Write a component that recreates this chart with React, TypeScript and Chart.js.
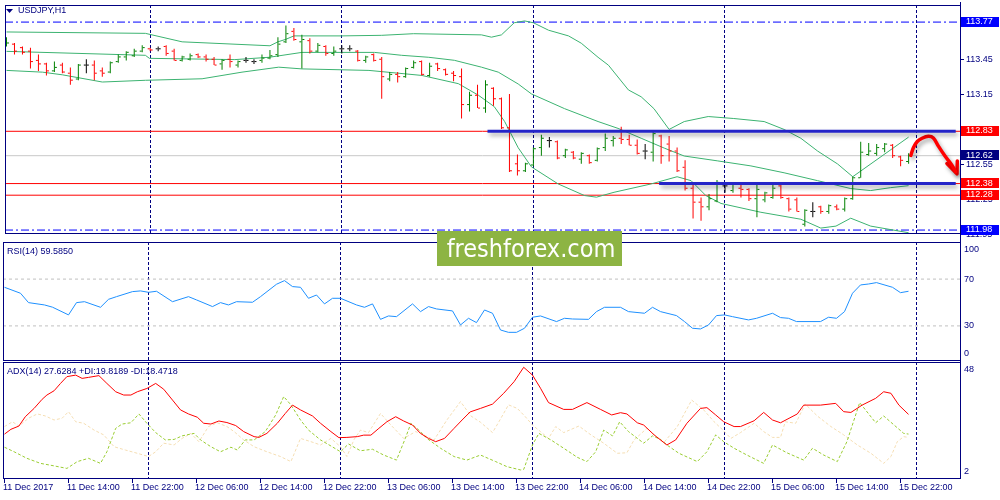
import React, { useEffect, useRef } from "react";
import { Chart, registerables } from "chart.js";

Chart.register(...registerables);

// USDJPY H1, bar 0 = 11 Dec 2017 06:00, one bar per hour
const opens = [
  113.57, 113.58, 113.55, 113.52, 113.44, 113.41, 113.35, 113.4, 113.33, 113.28,
  113.4, 113.4, 113.35, 113.34, 113.43, 113.47, 113.48, 113.52, 113.54, 113.54,
  113.56, 113.52, 113.44, 113.45, 113.49, 113.47, 113.45, 113.41, 113.45, 113.4,
  113.44, 113.43, 113.44, 113.46, 113.49, 113.6, 113.69, 113.6, 113.61, 113.52,
  113.56, 113.5, 113.54, 113.54, 113.52, 113.44, 113.49, 113.45, 113.28, 113.32,
  113.3, 113.38, 113.43, 113.31, 113.41, 113.36, 113.33, 113.3, 113.06, 113.14,
  113.03, 113.2, 113.11, 112.86, 112.55, 112.49, 112.54, 112.69, 112.75, 112.74,
  112.62, 112.65, 112.59, 112.62, 112.58, 112.69, 112.75, 112.77, 112.76, 112.71,
  112.66, 112.65, 112.79, 112.72, 112.66, 112.52, 112.34, 112.22, 112.18, 112.23,
  112.36, 112.32, 112.34, 112.33, 112.25, 112.24, 112.26, 112.36, 112.25, 112.24,
  112.03, 112.14, 112.18, 112.14, 112.18, 112.16, 112.25, 112.43, 112.63, 112.64,
  112.68, 112.71, 112.61, 112.57,
];
const highs = [
  113.64, 113.59, 113.56, 113.55, 113.49, 113.42, 113.43, 113.42, 113.38, 113.41,
  113.45, 113.44, 113.38, 113.43, 113.49, 113.52, 113.54, 113.57, 113.55, 113.56,
  113.57, 113.54, 113.48, 113.5, 113.5, 113.49, 113.47, 113.45, 113.49, 113.44,
  113.47, 113.45, 113.49, 113.53, 113.64, 113.74, 113.72, 113.66, 113.63, 113.59,
  113.57, 113.56, 113.57, 113.57, 113.53, 113.48, 113.5, 113.47, 113.34, 113.34,
  113.38, 113.44, 113.44, 113.42, 113.42, 113.37, 113.35, 113.37, 113.17, 113.23,
  113.27, 113.21, 113.12, 113.15, 112.63, 112.56, 112.69, 112.8, 112.78, 112.75,
  112.68, 112.66, 112.65, 112.63, 112.69, 112.81, 112.79, 112.87, 112.8, 112.76,
  112.72, 112.83, 112.8, 112.79, 112.69, 112.58, 112.38, 112.26, 112.29, 112.41,
  112.38, 112.38, 112.38, 112.34, 112.38, 112.31, 112.38, 112.38, 112.26, 112.26,
  112.16, 112.22, 112.19, 112.2, 112.2, 112.26, 112.44, 112.74, 112.73, 112.72,
  112.73, 112.72, 112.62, 112.64,
];
const lows = [
  113.56, 113.49, 113.49, 113.37, 113.35, 113.31, 113.34, 113.33, 113.23, 113.27,
  113.33, 113.27, 113.3, 113.33, 113.42, 113.44, 113.47, 113.51, 113.52, 113.52,
  113.48, 113.44, 113.43, 113.44, 113.46, 113.43, 113.4, 113.36, 113.38, 113.38,
  113.42, 113.41, 113.42, 113.45, 113.47, 113.59, 113.61, 113.37, 113.5, 113.51,
  113.48, 113.48, 113.5, 113.52, 113.43, 113.42, 113.43, 113.11, 113.26, 113.25,
  113.29, 113.37, 113.31, 113.3, 113.35, 113.31, 113.26, 112.94, 113.0, 113.03,
  112.99, 113.05, 112.85, 112.48, 112.45, 112.48, 112.53, 112.62, 112.69, 112.59,
  112.6, 112.59, 112.55, 112.55, 112.57, 112.66, 112.7, 112.72, 112.71, 112.63,
  112.59, 112.57, 112.55, 112.57, 112.48, 112.32, 112.08, 112.06, 112.15, 112.22,
  112.3, 112.3, 112.26, 112.23, 112.09, 112.22, 112.25, 112.25, 112.14, 112.14,
  112.01, 112.09, 112.12, 112.12, 112.15, 112.14, 112.24, 112.43, 112.62, 112.62,
  112.65, 112.6, 112.53, 112.55,
];
const closes = [
  113.59, 113.52, 113.51, 113.43, 113.41, 113.35, 113.38, 113.34, 113.27, 113.4,
  113.4, 113.33, 113.33, 113.42, 113.47, 113.51, 113.52, 113.55, 113.53, 113.54,
  113.5, 113.44, 113.47, 113.48, 113.47, 113.45, 113.4, 113.44, 113.43, 113.43,
  113.44, 113.43, 113.46, 113.48, 113.58, 113.67, 113.62, 113.62, 113.52, 113.57,
  113.5, 113.52, 113.54, 113.54, 113.44, 113.47, 113.44, 113.3, 113.32, 113.3,
  113.37, 113.42, 113.32, 113.39, 113.37, 113.32, 113.31, 113.06, 113.14, 113.03,
  113.23, 113.11, 112.86, 112.49, 112.49, 112.55, 112.68, 112.77, 112.75, 112.6,
  112.67, 112.6, 112.64, 112.56, 112.68, 112.77, 112.77, 112.76, 112.71, 112.64,
  112.66, 112.81, 112.62, 112.66, 112.49, 112.34, 112.22, 112.18, 112.25, 112.39,
  112.36, 112.38, 112.33, 112.25, 112.33, 112.3, 112.34, 112.26, 112.16, 112.14,
  112.15, 112.14, 112.14, 112.19, 112.16, 112.25, 112.43, 112.65, 112.66, 112.69,
  112.72, 112.62, 112.58, 112.62,
];

// Bollinger bands, [bar, price]
const upperBand: [number, number][] = [
  [0, 113.685], [17.4, 113.673], [22, 113.6], [33, 113.566], [34, 113.6], [35, 113.622],
  [36, 113.651], [42, 113.651], [47, 113.656], [51, 113.67], [59.5, 113.66], [60.75, 113.64],
  [62, 113.66], [63.6, 113.764], [64.9, 113.78], [66, 113.764], [67.9, 113.7], [70.4, 113.651],
  [72, 113.588], [74.1, 113.467], [75.4, 113.399], [77.9, 113.186], [79.5, 113.127],
  [81.1, 113.025], [83, 112.846], [84.9, 112.914], [87.9, 112.957], [91.1, 112.94],
  [94.9, 112.914], [97.4, 112.846], [99.5, 112.77], [101.6, 112.66], [104.1, 112.549],
  [106, 112.439], [113, 112.78],
];
const middleBand: [number, number][] = [
  [0, 113.518], [17.4, 113.484], [17.9, 113.458], [28.6, 113.447], [32.9, 113.467], [37, 113.509],
  [46.1, 113.509], [49.5, 113.484], [52.9, 113.467], [56.1, 113.441], [59.5, 113.382],
  [61.6, 113.339], [64.1, 113.237], [65.75, 113.152], [69.9, 113.025], [74.1, 112.914],
  [76.6, 112.855], [79.5, 112.77], [82.4, 112.685], [84.9, 112.617], [89.1, 112.575],
  [93.25, 112.532], [97.4, 112.473], [101.6, 112.405], [105.75, 112.337], [108.25, 112.32],
  [110.75, 112.345], [113, 112.362],
];
const lowerBand: [number, number][] = [
  [0, 113.354], [4.5, 113.339], [7, 113.316], [12, 113.254], [17.4, 113.269], [24.5, 113.282],
  [29.5, 113.339], [34.1, 113.382], [37, 113.367], [45.4, 113.354], [52, 113.311], [56.6, 113.24],
  [59.1, 113.141], [61.1, 113.042], [62.4, 112.914], [64.1, 112.688], [65.75, 112.524],
  [69.1, 112.377], [72.4, 112.277], [73.9, 112.263], [76.1, 112.305], [80.75, 112.377],
  [84, 112.439], [85.75, 112.405], [87.6, 112.277], [89.5, 112.209], [94.5, 112.133],
  [99.5, 112.073], [102, 111.997], [103.9, 112.014], [105.75, 112.082], [108.25, 112.014],
  [113, 111.957],
];

const redLevels = [112.83, 112.38, 112.28];
const blueLevels = [113.77, 111.98];
const bidPrice = 112.62;
const priceTicks = [113.75, 113.45, 113.15, 112.85, 112.55, 112.25, 111.95];

// drawn objects
const resistance: [number, number][] = [[60.25, 112.83], [118.9, 112.83]];
const support: [number, number][] = [[81.75, 112.38], [118.9, 112.38]];
const arrowPath: [number, number][] = [
  [113.28, 112.623], [113.6, 112.688], [114.06, 112.74], [114.69, 112.77], [115.48, 112.787],
  [116.1, 112.773], [116.73, 112.702], [117.56, 112.617], [118.4, 112.541], [118.9, 112.481],
];
const arrowHead: [number, number][] = [[117.8, 112.552], [119.06, 112.464], [119.1, 112.575]];

// RSI(14)
const rsiPoints: [number, number][] = [
  [0, 63.0], [2, 57.9], [3, 49.9], [5, 47.9], [6, 46.0], [8, 39.4], [9, 49.9], [10, 50.7],
  [12, 45.9], [13, 52.7], [14, 55.0], [16, 59.3], [17, 59.9], [18, 58.7], [19, 59.6], [21, 50.7],
  [23, 55.0], [24, 52.2], [26, 46.5], [27, 49.9], [28, 47.9], [29, 50.7], [31, 50.2], [32, 55.0],
  [34, 65.6], [35, 68.7], [36, 63.6], [37, 63.0], [38, 53.6], [39, 56.4], [40, 48.8], [41, 53.6],
  [42, 53.6], [44, 47.9], [45, 45.9], [46, 48.8], [47, 35.6], [48, 38.5], [49, 37.9], [51, 48.8],
  [52, 42.2], [53, 46.5], [54, 44.5], [56, 42.8], [57, 30.8], [58, 36.5], [59, 32.8], [60, 43.6],
  [61, 40.8], [62, 26.5], [63, 24.5], [64, 24.5], [65, 28.0], [66, 37.4], [67, 38.5], [69, 33.7],
  [70, 36.5], [71, 35.9], [73, 35.6], [74, 42.2], [75, 45.9], [77, 45.9], [78, 42.2], [80, 40.8],
  [81, 45.9], [82, 42.2], [84, 38.8], [85, 33.7], [86, 28.0], [87, 27.4], [88, 30.8], [89, 38.8],
  [90, 39.4], [91, 37.9], [93, 35.1], [94, 36.5], [96, 40.8], [97, 37.1], [98, 36.5], [99, 33.7],
  [102, 33.7], [103, 37.4], [104, 36.5], [105, 42.2], [106, 57.9], [107, 65.0], [108, 65.8],
  [109, 67.0], [111, 63.0], [112, 58.4], [113, 59.585],
];
const rsiLevels = [70, 30];
const rsiTicks = [100, 70, 30, 0];

// ADX(14), +DI, -DI
const adxPoints: [number, number][] = [
  [0, 19.8], [0.8, 21.7], [1.8, 23.0], [2.6, 26.7], [3.7, 30.0], [4.7, 33.6], [5.3, 35.3],
  [6.2, 37.0], [7.0, 39.9], [7.8, 42.6], [8.9, 43.2], [9.7, 41.9], [10.5, 42.3], [11.8, 43.0],
  [12.8, 39.9], [13.9, 36.6], [14.9, 35.3], [15.8, 35.3], [16.6, 36.6], [17.8, 37.9], [18.9, 39.9],
  [19.9, 37.6], [21.0, 33.3], [22.0, 29.4], [23.0, 27.8], [24.1, 26.5], [24.9, 24.1], [25.8, 23.8],
  [26.8, 25.0], [27.8, 24.4], [28.9, 23.2], [29.9, 20.8], [31.2, 18.8], [31.8, 18.5], [32.8, 20.1],
  [34.1, 24.1], [35.1, 28.0], [36.0, 31.3], [37.0, 29.4], [38.5, 27.0], [39.5, 24.1], [40.8, 20.8],
  [41.8, 18.4], [42.8, 18.5], [44.1, 18.8], [44.9, 19.4], [45.8, 19.4], [46.8, 22.1], [47.8, 24.7],
  [48.9, 26.7], [49.9, 25.0], [51.0, 23.4], [52.0, 20.1], [53.0, 18.1], [53.9, 16.8], [55.0, 18.1],
  [56.2, 22.1], [57.2, 25.4], [58.2, 28.6], [59.5, 30.0], [61.0, 31.7], [62.4, 36.0], [63.7, 40.6],
  [64.9, 46.3], [66.0, 43.2], [67.0, 38.0], [68.0, 32.3], [69.9, 29.6], [71.0, 29.6], [72.8, 32.3],
  [74.5, 29.6], [75.9, 27.4], [77.0, 28.3], [77.8, 27.8], [79.1, 24.3], [79.9, 23.4], [81.2, 19.5],
  [82.8, 15.5], [83.9, 17.5], [85.3, 24.1], [87.0, 30.0], [87.8, 30.3], [88.9, 27.4], [89.9, 24.7],
  [91.2, 22.8], [92.0, 22.8], [93.7, 25.1], [94.9, 28.4], [96.0, 25.4], [97.0, 24.3], [99.1, 27.8],
  [99.9, 31.3], [102.0, 31.3], [103.9, 32.0], [104.9, 28.7], [105.8, 28.4], [107.2, 31.3],
  [108.9, 34.0], [109.9, 36.6], [110.8, 36.0], [111.8, 31.3], [113, 27.6284],
];
const plusDiPoints: [number, number][] = [
  [0, 14.6], [1.2, 12.8], [2.8, 10.2], [4.5, 8.2], [6.2, 7.2], [7.8, 6.2], [9.1, 8.9], [10.5, 10.2],
  [12.0, 8.2], [12.8, 12.8], [13.9, 22.1], [14.7, 23.8], [15.8, 24.3], [16.8, 27.8], [17.8, 24.1],
  [18.9, 20.4], [20.1, 17.5], [21.2, 17.7], [22.2, 19.1], [23.7, 20.1], [24.5, 17.5], [25.8, 14.8],
  [27.0, 12.8], [28.3, 14.6], [29.1, 13.5], [30.1, 17.5], [31.2, 17.5], [32.6, 20.8], [33.9, 27.4],
  [34.9, 34.7], [35.8, 31.4], [37.0, 25.4], [38.0, 21.4], [39.5, 17.5], [40.8, 15.1], [42.0, 12.8],
  [43.0, 15.9], [44.5, 13.2], [46.0, 13.8], [47.4, 11.5], [49.0, 9.5], [50.1, 18.1], [50.8, 24.1],
  [51.8, 21.4], [52.8, 18.1], [54.5, 14.2], [56.2, 10.9], [57.8, 9.5], [59.5, 11.5], [61.4, 8.9],
  [62.8, 6.9], [64.5, 5.6], [64.9, 5.8], [66.0, 15.5], [66.8, 20.1], [68.3, 17.5], [69.9, 14.2],
  [71.6, 10.6], [72.8, 8.9], [73.9, 12.8], [74.9, 21.4], [76.0, 19.1], [76.9, 24.7], [78.0, 20.8],
  [79.9, 16.2], [81.0, 19.1], [82.0, 17.7], [82.8, 15.5], [84.3, 12.2], [86.6, 8.9], [87.8, 12.8],
  [88.9, 19.5], [89.9, 16.8], [91.2, 14.2], [92.8, 11.5], [94.9, 8.2], [96.0, 15.5], [97.8, 12.4],
  [99.9, 9.5], [101.0, 14.2], [102.4, 11.5], [104.1, 8.9], [105.3, 16.8], [106.9, 32.3],
  [108.9, 24.3], [109.9, 27.0], [111.2, 23.4], [112.4, 20.1], [113, 19.8189],
];
const minusDiPoints: [number, number][] = [
  [0, 22.8], [1.0, 24.7], [1.8, 23.0], [3.0, 26.1], [4.1, 27.8], [5.1, 27.0], [6.2, 25.4],
  [7.2, 26.1], [8.0, 28.7], [8.9, 24.7], [9.9, 24.1], [11.2, 21.4], [12.4, 19.5], [13.7, 14.8],
  [15.1, 13.5], [16.6, 12.2], [18.0, 10.9], [18.9, 12.8], [19.9, 16.2], [21.2, 15.5], [22.2, 18.1],
  [23.3, 20.1], [24.3, 16.8], [25.5, 22.8], [26.6, 24.3], [27.8, 22.8], [28.7, 20.8], [29.9, 17.5],
  [31.2, 14.8], [32.8, 12.8], [34.5, 10.9], [35.8, 8.9], [37.0, 18.1], [38.3, 16.8], [39.5, 15.5],
  [40.8, 18.1], [42.0, 14.8], [42.8, 10.9], [43.7, 17.7], [44.5, 21.4], [45.5, 20.4], [47.0, 28.0],
  [48.3, 23.4], [49.9, 18.1], [51.4, 20.8], [52.4, 19.5], [53.7, 17.5], [55.3, 25.4], [57.0, 32.7],
  [58.3, 27.0], [59.5, 24.5], [61.0, 20.4], [61.8, 24.7], [63.0, 31.4], [64.1, 30.0], [65.1, 26.7],
  [66.0, 23.4], [67.0, 20.8], [68.0, 18.1], [68.9, 22.8], [69.9, 20.4], [71.8, 23.0], [73.3, 19.5],
  [74.9, 16.2], [76.6, 12.2], [77.8, 12.4], [78.7, 17.5], [80.3, 22.1], [82.4, 16.4], [84.1, 22.8],
  [85.9, 33.3], [87.4, 29.4], [88.7, 24.7], [89.8, 21.4], [90.8, 18.1], [92.0, 20.4], [93.7, 24.1],
  [94.9, 20.8], [96.0, 18.5], [97.0, 18.5], [97.6, 24.7], [98.9, 24.1], [100.1, 31.7], [101.6, 27.0],
  [103.3, 22.8], [104.9, 19.5], [106.6, 15.5], [108.3, 12.2], [109.9, 8.2], [110.8, 10.9],
  [111.6, 16.8], [112.4, 18.8], [113, 18.4718],
];
const adxTicks = [48, 2];

// time axis
const dayStarts = [18, 42, 66, 90, 114];
const labelBars = [0, 8, 16, 24, 32, 40, 48, 56, 64, 72, 80, 88, 96, 104, 112];
const labelTexts = [
  "11 Dec 2017", "11 Dec 14:00", "11 Dec 22:00", "12 Dec 06:00", "12 Dec 14:00",
  "12 Dec 22:00", "13 Dec 06:00", "13 Dec 14:00", "13 Dec 22:00", "14 Dec 06:00",
  "14 Dec 14:00", "14 Dec 22:00", "15 Dec 06:00", "15 Dec 14:00", "15 Dec 22:00",
];

const NAVY = "#000080";
const FONT = '9px "Liberation Sans", Arial, sans-serif';
const X_MIN = -0.1875;
const X_MAX = 119.4375;
const AXIS_X = 960;
const TICK = 0.1875;

const pts = (arr: [number, number][]) => arr.map(([x, y]) => ({ x, y }));
const hline = (v: number) => [{ x: X_MIN, y: v }, { x: X_MAX, y: v }];
const clamp = (v: number, lo: number, hi: number) => Math.min(hi, Math.max(lo, v));

function drawFrame(ctx: CanvasRenderingContext2D, a: any) {
  ctx.save();
  ctx.strokeStyle = NAVY;
  ctx.lineWidth = 1;
  ctx.setLineDash([]);
  ctx.strokeRect(a.left + 0.5, a.top + 0.5, a.right - a.left, a.bottom - a.top - 1);
  ctx.restore();
}

const dayGrid = {
  id: "dayGrid",
  beforeDatasetsDraw(chart: any) {
    const { ctx, chartArea: a } = chart;
    const x = chart.scales.x;
    ctx.save();
    ctx.strokeStyle = NAVY;
    ctx.lineWidth = 1;
    ctx.setLineDash([3, 2]);
    dayStarts.forEach((d) => {
      const px = Math.floor(x.getPixelForValue(d)) + 0.5;
      ctx.beginPath();
      ctx.moveTo(px, a.top);
      ctx.lineTo(px, a.bottom);
      ctx.stroke();
    });
    ctx.restore();
  },
};

const objShadow = {
  id: "objShadow",
  beforeDatasetDraw(chart: any, args: any) {
    if (!chart.data.datasets[args.index].shadow) return;
    const ctx = chart.ctx;
    ctx.save();
    ctx.shadowColor = "rgba(0,0,0,0.35)";
    ctx.shadowBlur = 4;
    ctx.shadowOffsetX = 2;
    ctx.shadowOffsetY = 3;
  },
  afterDatasetDraw(chart: any, args: any) {
    if (chart.data.datasets[args.index].shadow) chart.ctx.restore();
  },
};

const priceDecor = {
  id: "priceDecor",
  afterDraw(chart: any) {
    const { ctx, chartArea: a } = chart;
    const y = chart.scales.y;
    drawFrame(ctx, a);
    ctx.save();
    ctx.font = FONT;
    ctx.textBaseline = "middle";
    ctx.textAlign = "left";
    ctx.fillStyle = NAVY;
    ctx.beginPath();
    ctx.moveTo(6, 9);
    ctx.lineTo(13, 9);
    ctx.lineTo(9.5, 13);
    ctx.closePath();
    ctx.fill();
    ctx.fillText("USDJPY,H1", 18, 11);

    ctx.strokeStyle = NAVY;
    priceTicks.forEach((p) => {
      const py = Math.round(y.getPixelForValue(p)) + 0.5;
      ctx.beginPath();
      ctx.moveTo(a.right + 1, py);
      ctx.lineTo(a.right + 4, py);
      ctx.stroke();
      ctx.fillText(p.toFixed(2), 966, py);
    });
    const box = (v: number, bg: string) => {
      const py = y.getPixelForValue(v);
      ctx.fillStyle = bg;
      ctx.fillRect(a.right + 1, Math.round(py - 5.5), 38, 10);
      ctx.fillStyle = "#ffffff";
      ctx.fillText(v.toFixed(2), 966, py - 0.5);
    };
    blueLevels.forEach((v) => box(v, "#0000ff"));
    redLevels.forEach((v) => box(v, "#ff0000"));
    box(bidPrice, NAVY);
    ctx.restore();
  },
};

const rsiDecor = {
  id: "rsiDecor",
  afterDraw(chart: any) {
    const { ctx, chartArea: a } = chart;
    const y = chart.scales.y;
    drawFrame(ctx, a);
    ctx.save();
    ctx.font = FONT;
    ctx.textBaseline = "middle";
    ctx.textAlign = "left";
    ctx.fillStyle = NAVY;
    const last = rsiPoints[rsiPoints.length - 1][1];
    ctx.fillText(`RSI(14) ${last.toFixed(4)}`, 7, 251.5);
    rsiTicks.forEach((v) => {
      const py = clamp(y.getPixelForValue(v), a.top + 8, a.bottom - 7);
      ctx.fillText(String(v), 964, py);
    });
    // watermark
    ctx.fillStyle = "#8db443";
    ctx.fillRect(437, 231, 185, 35);
    ctx.fillStyle = "#ffffff";
    ctx.font = '25px "Liberation Sans Narrow", "DejaVu Sans Condensed", "Open Sans", sans-serif';
    ctx.textAlign = "center";
    ctx.textBaseline = "alphabetic";
    ctx.fillText("freshforex.com", 531, 257, 170);
    ctx.restore();
  },
};

const adxDecor = {
  id: "adxDecor",
  afterDraw(chart: any) {
    const { ctx, chartArea: a } = chart;
    const x = chart.scales.x;
    const y = chart.scales.y;
    drawFrame(ctx, a);
    ctx.save();
    ctx.strokeStyle = NAVY;
    ctx.lineWidth = 1;
    ctx.beginPath();
    ctx.moveTo(a.right + 0.5, 2);
    ctx.lineTo(a.right + 0.5, a.bottom);
    ctx.stroke();
    ctx.font = FONT;
    ctx.textBaseline = "middle";
    ctx.textAlign = "left";
    ctx.fillStyle = NAVY;
    const lastOf = (arr: [number, number][]) => arr[arr.length - 1][1].toFixed(4);
    ctx.fillText(
      `ADX(14) ${lastOf(adxPoints)} +DI:${lastOf(plusDiPoints)} -DI:${lastOf(minusDiPoints)}`,
      7,
      371.5
    );
    adxTicks.forEach((v) => {
      const py = clamp(y.getPixelForValue(v), a.top + 8, a.bottom - 7);
      ctx.fillText(String(v), 964, py);
    });
    labelBars.forEach((b, k) => {
      const px = Math.floor(x.getPixelForValue(b)) + 0.5;
      ctx.beginPath();
      ctx.moveTo(px, a.bottom);
      ctx.lineTo(px, a.bottom + 4);
      ctx.stroke();
      ctx.fillText(labelTexts[k], px - 1.5, 488);
    });
    ctx.restore();
  },
};

function panelOptions(top: number, bottom: number, yMin: number, yMax: number): any {
  return {
    responsive: false,
    animation: false,
    events: [],
    layout: { padding: { left: 3, right: 1000 - AXIS_X, top, bottom: 500 - bottom } },
    elements: { point: { radius: 0 }, line: { borderWidth: 1, tension: 0 } },
    plugins: { legend: { display: false }, tooltip: { enabled: false } },
    scales: {
      x: {
        type: "linear",
        min: X_MIN,
        max: X_MAX,
        offset: false,
        grid: { offset: false },
        display: false,
      },
      y: { type: "linear", min: yMin, max: yMax, display: false },
    },
  };
}

function priceConfig(): any {
  const colors = opens.map((o, i) =>
    closes[i] > o ? "#008000" : closes[i] < o ? "#ff0000" : "#000000"
  );
  const trend = { type: "line", borderColor: "#2424c8", borderWidth: 3, shadow: true, order: 0 };
  const arrow = {
    type: "line",
    borderColor: "#ff0000",
    borderWidth: 3.5,
    borderCapStyle: "round",
    borderJoinStyle: "round",
    shadow: true,
    order: 0,
  };
  const band = { type: "line", borderColor: "#3cb371", order: 2 };
  const tickStyle = {
    type: "line",
    showLine: false,
    pointStyle: "line",
    pointRadius: 1,
    pointBorderWidth: 1,
    pointBorderColor: colors,
    pointBackgroundColor: colors,
    order: 1,
  };
  return {
    type: "line",
    data: {
      datasets: [
        { ...trend, data: pts(resistance) },
        { ...trend, data: pts(support) },
        { ...arrow, data: pts(arrowPath), tension: 0.35 },
        { ...arrow, data: pts(arrowHead) },
        {
          type: "bar",
          data: highs.map((h, i) => ({ x: i, y: [lows[i], h] })),
          backgroundColor: colors,
          borderWidth: 0,
          barThickness: 1,
          inflateAmount: 0,
          order: 1,
        },
        { ...tickStyle, data: opens.map((o, i) => ({ x: i - TICK, y: o })) },
        { ...tickStyle, data: closes.map((c, i) => ({ x: i + TICK, y: c })) },
        { ...band, data: pts(upperBand) },
        { ...band, data: pts(middleBand) },
        { ...band, data: pts(lowerBand) },
        ...redLevels.map((v) => ({ type: "line", data: hline(v), borderColor: "#ff0000", order: 3 })),
        ...blueLevels.map((v) => ({
          type: "line",
          data: hline(v),
          borderColor: "#0000ff",
          borderDash: [8, 3, 2, 3],
          order: 3,
        })),
        { type: "line", data: hline(bidPrice), borderColor: "#c8c8c8", order: 4 },
      ],
    },
    options: panelOptions(2, 234, 111.946, 113.917),
    plugins: [dayGrid, objShadow, priceDecor],
  };
}

function rsiConfig(): any {
  return {
    type: "line",
    data: {
      datasets: [
        { data: pts(rsiPoints), borderColor: "#1e90ff", order: 0 },
        ...rsiLevels.map((v) => ({
          data: hline(v),
          borderColor: "#c0c0c0",
          borderDash: [3, 3],
          order: 1,
        })),
      ],
    },
    options: panelOptions(242, 361, 0, 101.7),
    plugins: [dayGrid, rsiDecor],
  };
}

function adxConfig(): any {
  return {
    type: "line",
    data: {
      datasets: [
        { data: pts(adxPoints), borderColor: "#ff0000", order: 0 },
        { data: pts(plusDiPoints), borderColor: "#9acd32", borderDash: [3, 2], order: 1 },
        { data: pts(minusDiPoints), borderColor: "#f5deb3", borderDash: [3, 2], order: 2 },
      ],
    },
    options: panelOptions(362, 479, 2, 48.4),
    plugins: [dayGrid, adxDecor],
  };
}

const App: React.FC = () => {
  const priceRef = useRef<HTMLCanvasElement | null>(null);
  const rsiRef = useRef<HTMLCanvasElement | null>(null);
  const adxRef = useRef<HTMLCanvasElement | null>(null);

  useEffect(() => {
    if (!priceRef.current || !rsiRef.current || !adxRef.current) return;
    const charts = [
      new Chart(priceRef.current, priceConfig()),
      new Chart(rsiRef.current, rsiConfig()),
      new Chart(adxRef.current, adxConfig()),
    ];
    return () => charts.forEach((c) => c.destroy());
  }, []);

  const canvasStyle: React.CSSProperties = { position: "absolute", left: 0, top: 0 };
  return (
    <div
      style={{
        position: "fixed",
        left: 0,
        top: 0,
        width: 1000,
        height: 500,
        background: "#ffffff",
        overflow: "hidden",
      }}
    >
      <canvas ref={priceRef} width={1000} height={500} style={canvasStyle} />
      <canvas ref={rsiRef} width={1000} height={500} style={canvasStyle} />
      <canvas ref={adxRef} width={1000} height={500} style={canvasStyle} />
    </div>
  );
};

export default App;
